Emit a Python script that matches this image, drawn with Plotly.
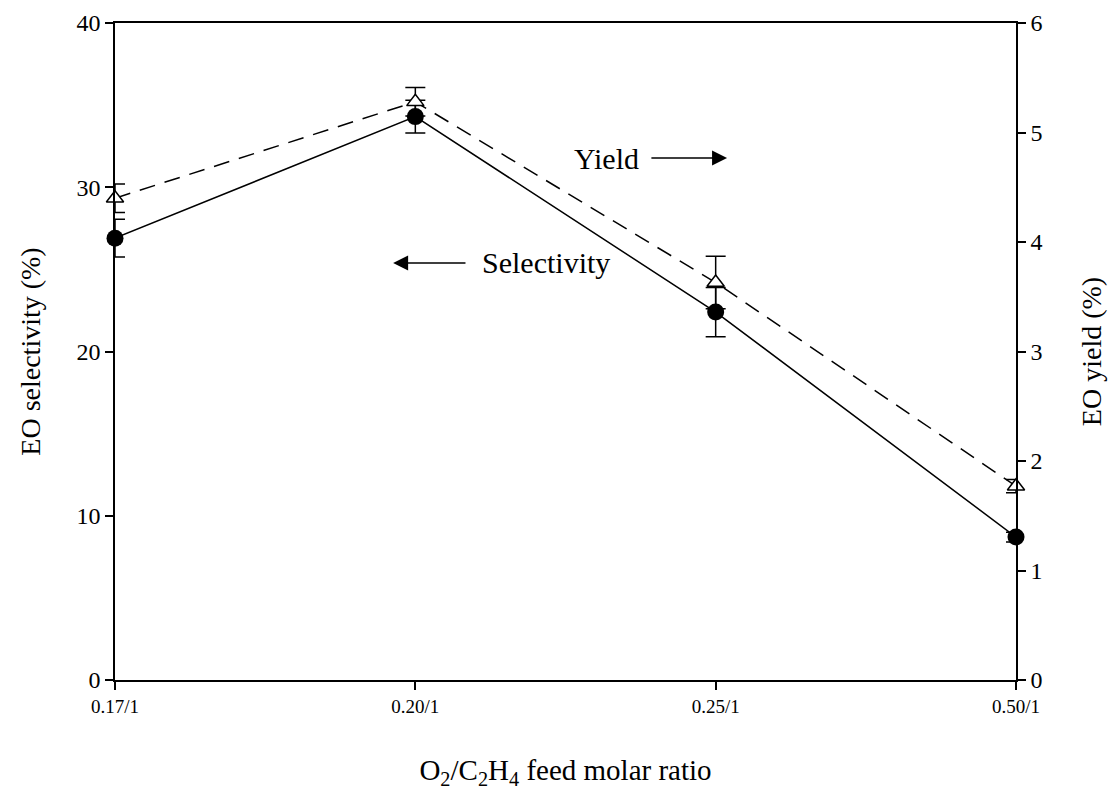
import plotly.graph_objects as go

categories = ["0.17/1", "0.20/1", "0.25/1", "0.50/1"]
selectivity = [26.9, 34.3, 22.4, 8.7]
selectivity_err = [1.15, 1.0, 1.5, 0.3]
yield_vals = [4.40, 5.28, 3.63, 1.77]
yield_err = [0.13, 0.13, 0.24, 0.06]

xpos = list(range(len(categories)))
FF = "Liberation Serif"

fig = go.Figure()
fig.add_trace(go.Scatter(
    x=xpos, y=selectivity, mode="lines+markers", name="Selectivity",
    line=dict(color="black", width=1.5),
    marker=dict(symbol="circle", size=17, color="black"),
    error_y=dict(type="data", array=selectivity_err, color="black", thickness=1.5, width=10),
    cliponaxis=False, yaxis="y"))
fig.add_trace(go.Scatter(
    x=xpos, y=yield_vals, mode="lines+markers", name="Yield",
    line=dict(color="black", width=1.5, dash="16px,10px"),
    marker=dict(symbol="triangle-up", size=15, color="white", line=dict(color="black", width=1.5)),
    error_y=dict(type="data", array=yield_err, color="black", thickness=1.5, width=10),
    cliponaxis=False, yaxis="y2"))

fig.update_layout(
    width=1110, height=792,
    margin=dict(l=115, r=94, t=23, b=112, autoexpand=False),
    paper_bgcolor="white", plot_bgcolor="white",
    showlegend=False,
    font=dict(family=FF, color="black", size=20),
    xaxis=dict(range=[0, 3], tickvals=xpos, ticktext=categories, automargin=False,
               showline=True, linecolor="black", linewidth=1.5, mirror=True,
               ticks="outside", ticklen=8, tickcolor="black", tickwidth=1.5,
               showgrid=False, zeroline=False, tickfont=dict(family=FF, size=19),
               title=dict(text="O<sub>2</sub>/C<sub>2</sub>H<sub>4</sub> feed molar ratio",
                          font=dict(family=FF, size=29), standoff=44)),
    yaxis=dict(range=[0, 40], tickvals=[0, 10, 20, 30, 40], automargin=False,
               showline=True, linecolor="black", linewidth=1.5,
               ticks="outside", ticklen=8, tickcolor="black", tickwidth=1.5,
               showgrid=False, zeroline=False, tickfont=dict(family=FF, size=24),
               title=dict(text="EO selectivity (%)", font=dict(family=FF, size=28), standoff=28)),
    yaxis2=dict(range=[0, 6], tickvals=[0, 1, 2, 3, 4, 5, 6], overlaying="y", side="right",
                automargin=False,
                showline=True, linecolor="black", linewidth=1.5,
                ticks="outside", ticklen=8, tickcolor="black", tickwidth=1.5,
                showgrid=False, zeroline=False, tickfont=dict(family=FF, size=24),
                title=dict(text="EO yield (%)", font=dict(family=FF, size=28), standoff=40)),
)

fig.add_annotation(x=1.638, y=31.78, xref="x", yref="y", text="Yield",
                   showarrow=False, font=dict(family=FF, size=30), xanchor="center", yanchor="middle")
fig.add_annotation(x=2.038, y=31.78, ax=1.781, ay=31.78, xref="x", yref="y", axref="x", ayref="y",
                   text="", showarrow=True, arrowhead=2, arrowsize=2, arrowwidth=1.5,
                   arrowcolor="black")
fig.add_annotation(x=1.435, y=25.39, xref="x", yref="y", text="Selectivity",
                   showarrow=False, font=dict(family=FF, size=30), xanchor="center", yanchor="middle")
fig.add_annotation(x=0.926, y=25.39, ax=1.172, ay=25.39, xref="x", yref="y", axref="x", ayref="y",
                   text="", showarrow=True, arrowhead=2, arrowsize=2, arrowwidth=1.5,
                   arrowcolor="black")

fig.write_html("out.html")
